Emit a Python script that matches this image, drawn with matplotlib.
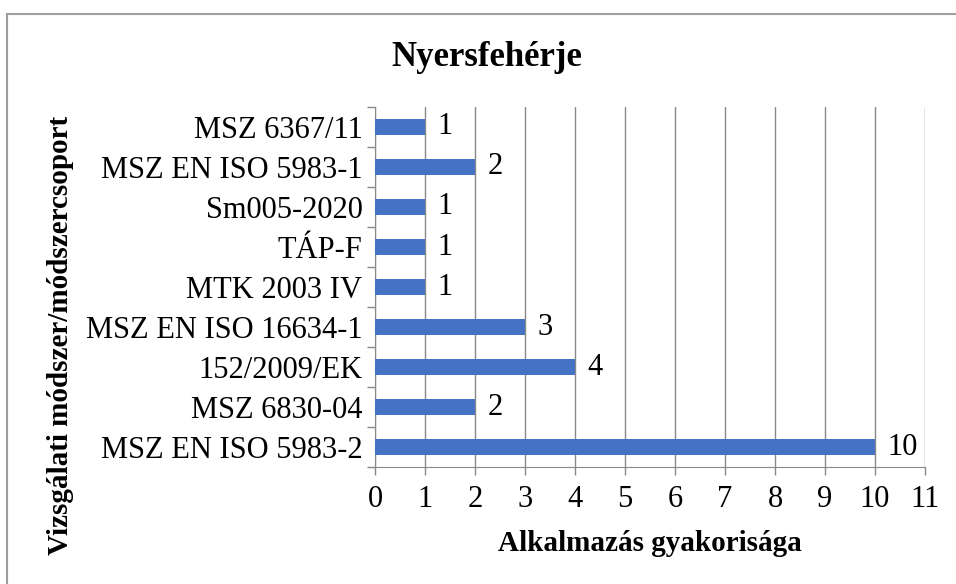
import matplotlib.pyplot as plt
from matplotlib.lines import Line2D

# data, bottom to top as drawn
methods = ["MSZ EN ISO 5983-2", "MSZ 6830-04", "152/2009/EK", "MSZ EN ISO 16634-1",
           "MTK 2003 IV", "TÁP-F", "Sm005-2020", "MSZ EN ISO 5983-1", "MSZ 6367/11"]
counts = [10, 2, 4, 3, 1, 1, 1, 2, 1]
xticks = list(range(0, 12))

plt.rcParams['font.family'] = ['Liberation Serif', 'DejaVu Serif']

fig = plt.figure(figsize=(9.56, 5.84), dpi=100)
ax = fig.add_axes([0.3923, 0.2003, 0.5753, 0.6165])

pos = list(range(len(methods)))
ax.barh(pos, counts, height=0.42, color="#4472C4", zorder=3)
for y, v in zip(pos, counts):
    ax.annotate(str(v), (v, y), xytext=(9, 0), textcoords="offset points",
                va="center", ha="left", fontsize=22)

ax.set_xlim(0, 11)
ax.set_ylim(-0.5, len(methods) - 0.5)
ax.set_xticks(xticks)
ax.set_xticklabels([str(t) for t in xticks], fontsize=22)
ax.tick_params(axis="x", length=6, width=1, color="#898989", pad=7)

ax.set_yticks([p - 0.5 for p in pos] + [len(methods) - 0.5])
ax.set_yticklabels([])
ax.tick_params(axis="y", which="major", length=6, width=1, color="#898989")
ax.set_yticks(pos, minor=True)
ax.set_yticklabels(methods, minor=True, fontsize=22)
ax.tick_params(axis="y", which="minor", length=0, pad=9)

ax.grid(axis="x", color="#898989", linewidth=1, zorder=0)
for s in ["top", "right"]:
    ax.spines[s].set_visible(False)
for s in ["left", "bottom"]:
    ax.spines[s].set_color("#898989")

fig.text(0.509, 0.902, "Nyersfehérje", ha="center", va="center", fontsize=25, fontweight="bold")
fig.text(0.68, 0.070, "Alkalmazás gyakorisága", ha="center", va="center", fontsize=21, fontweight="bold")
fig.text(0.063, 0.426, "Vizsgálati módszer/módszercsoport", ha="center", va="center",
         rotation=90, fontsize=21, fontweight="bold")

# chart frame (left and top edges visible)
fig.add_artist(Line2D([0.0078, 0.0078], [0, 1 - 14 / 584], transform=fig.transFigure, color="#a0a0a0", lw=1.5))
fig.add_artist(Line2D([0.0078, 1], [1 - 14 / 584, 1 - 14 / 584], transform=fig.transFigure, color="#a0a0a0", lw=1.5))

fig.savefig("out.png", dpi=100)
